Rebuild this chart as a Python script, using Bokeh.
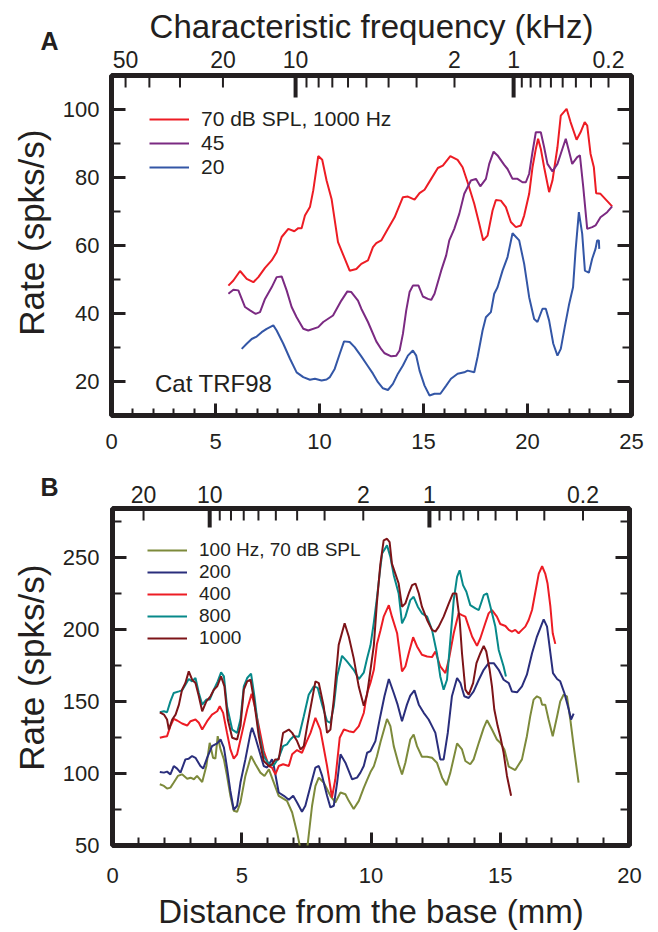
import numpy as np
from bokeh.plotting import figure
from bokeh.models import (Range1d, LinearAxis, FixedTicker, Label, Legend,
                          LegendItem, CustomJSTickFormatter)
from bokeh.layouts import column, row
from bokeh.embed import file_html
from bokeh.resources import INLINE

FONT = "Liberation Sans"
INK = "#231f20"

# ---------------- Panel A (cat, distance 0-25 mm) ----------------
a70_dist = [5.62, 5.86, 6.18, 6.50, 6.82, 7.06, 7.38, 7.70, 7.94, 8.18, 8.50, 8.79, 8.98, 9.14,
            9.30, 9.54, 9.70, 9.94, 10.13, 10.34, 10.58, 10.89, 11.45, 11.77, 12.01, 12.33,
            12.57, 12.73, 12.97, 13.29, 13.61, 14.01, 14.25, 14.57, 14.81, 15.05, 15.37, 15.69,
            15.93, 16.29, 16.64, 16.88, 17.12, 17.44, 17.68, 17.87, 18.08, 18.32, 18.48, 18.72,
            18.96, 19.20, 19.44, 19.68, 19.84, 20.08, 20.24, 20.40, 20.51, 20.64, 20.80, 21.04,
            21.20, 21.44, 21.60, 21.88, 22.07, 22.36, 22.55, 22.75, 22.87, 23.03, 23.19, 23.30,
            23.51, 24.07]
a70_rate = [48.2, 49.7, 52.5, 50.2, 49.2, 50.7, 53.4, 55.6, 58.0, 62.5, 64.9, 64.2, 65.1, 65.1,
            68.8, 71.3, 76.2, 86.3, 85.2, 79.1, 73.7, 61.0, 52.6, 53.1, 54.6, 55.6,
            59.5, 60.7, 61.5, 64.9, 68.3, 74.2, 74.4, 73.5, 75.4, 76.4, 79.6, 82.8,
            83.5, 86.3, 85.2, 83.0, 78.6, 72.3, 66.4, 61.5, 62.9, 70.3, 73.4, 73.2,
            71.3, 66.9, 65.4, 65.9, 68.8, 75.2, 83.0, 88.4, 91.4, 88.4, 83.0, 75.7,
            79.1, 88.9, 98.2, 100.2, 96.3, 91.1, 93.3, 96.3, 95.3, 87.0, 83.0, 75.4,
            75.2, 71.5]

a45_dist = [5.62, 5.86, 6.10, 6.42, 6.66, 6.93, 7.14, 7.38, 7.70, 7.94, 8.18, 8.42, 8.66, 8.90,
            9.22, 9.46, 9.94, 10.18, 10.65, 11.05, 11.34, 11.53, 11.85, 12.01, 12.33, 12.73,
            12.97, 13.13, 13.45, 13.69, 13.85, 14.01, 14.17, 14.33, 14.49, 14.76, 14.97, 15.21,
            15.37, 15.53, 15.85, 16.09, 16.24, 16.48, 16.72, 16.96, 17.28, 17.52, 17.73, 18.00,
            18.16, 18.37, 18.56, 18.88, 19.04, 19.28, 19.52, 19.76, 19.92, 20.08, 20.24, 20.40,
            20.64, 20.80, 20.96, 21.20, 21.44, 21.60, 21.84, 21.99, 22.15, 22.39, 22.52, 22.68,
            22.87, 23.11, 23.27, 23.51, 23.83, 24.07]
a45_rate = [45.8, 47.0, 46.8, 41.9, 40.9, 39.9, 40.4, 44.3, 47.7, 50.7, 50.9, 46.8, 41.9, 38.9,
            35.5, 35.0, 36.0, 37.5, 39.4, 43.8, 46.5, 46.3, 43.8, 41.4, 37.5, 31.8,
            29.5, 28.3, 27.4, 27.6, 29.1, 34.0, 40.9, 46.3, 48.2, 48.2, 45.0, 44.3,
            44.0, 45.8, 52.6, 57.1, 61.5, 64.9, 69.3, 75.2, 79.1, 79.6, 77.4, 79.6,
            84.0, 87.6, 86.5, 83.7, 82.5, 79.6, 79.6, 78.6, 78.6, 81.1, 87.5, 93.3,
            93.3, 88.9, 84.0, 81.8, 84.0, 87.0, 91.4, 87.9, 84.0, 86.0, 86.5, 77.2,
            64.9, 65.4, 65.9, 68.3, 69.8, 71.5]

a20_dist = [6.26, 6.50, 6.74, 6.98, 7.22, 7.46, 7.78, 7.94, 8.26, 8.58, 8.90, 9.22, 9.54, 9.78,
            10.10, 10.34, 10.50, 10.73, 10.97, 11.18, 11.45, 11.69, 12.01, 12.33, 12.57, 12.81,
            13.05, 13.29, 13.53, 13.77, 14.01, 14.25, 14.49, 14.65, 14.81, 15.05, 15.29, 15.53,
            15.81, 16.09, 16.32, 16.64, 16.96, 17.12, 17.44, 17.60, 17.84, 18.00, 18.24, 18.40,
            18.56, 18.80, 19.04, 19.28, 19.60, 19.84, 20.08, 20.32, 20.48, 20.72, 20.88, 21.04,
            21.24, 21.44, 21.60, 21.79, 21.99, 22.19, 22.31, 22.47, 22.63, 22.76, 22.95, 23.11,
            23.27, 23.35, 23.43, 23.45]
a20_rate = [29.6, 31.1, 32.5, 33.2, 34.5, 35.5, 36.5, 35.0, 31.1, 26.7, 22.7, 21.3, 20.5, 20.8,
            20.3, 20.6, 21.3, 23.7, 28.1, 31.8, 31.6, 30.1, 27.4, 24.5, 22.3, 19.8,
            18.0, 17.5, 19.3, 22.3, 24.7, 27.6, 29.1, 27.6, 23.2, 18.8, 15.9, 16.4,
            16.4, 18.8, 20.8, 22.3, 22.7, 23.2, 22.7, 27.2, 35.0, 38.9, 40.4, 45.8,
            47.7, 52.6, 56.6, 63.6, 61.5, 54.6, 44.8, 38.4, 37.5, 41.4, 41.4, 37.9,
            31.1, 27.6, 29.6, 36.0, 42.4, 47.7, 58.5, 69.8, 63.4, 52.6, 52.0, 56.1,
            59.0, 61.5, 61.5, 59.0]

a_labels = ["70 dB SPL, 1000 Hz", "45", "20"]
a_colors = ["#ed1c24", "#7b2a82", "#3356a6"]

a_cf_ticks = [50, 40, 30, 20, 10, 9, 8, 7, 6, 5, 4, 3, 2, 1,
              0.9, 0.8, 0.7, 0.6, 0.5, 0.4, 0.3, 0.2]
a_cf_tick_labels = ["50", "", "", "20", "10", "", "", "", "", "", "", "", "2", "1",
                    "", "", "", "", "", "", "", "0.2"]
a_cf_long = [10, 1]
a_x_major = [0, 5, 10, 15, 20, 25]
a_y_major = [20, 40, 60, 80, 100]
a_y_minor = [30, 50, 70, 90]

# ---------------- Panel B (distance 0-20 mm) ----------------
b100_dist = [1.83, 1.99, 2.11, 2.24, 2.37, 2.53, 2.69, 2.89, 3.02, 3.15, 3.27, 3.47, 3.63, 3.76,
             3.89, 3.98, 4.07, 4.18, 4.31, 4.43, 4.56, 4.69, 4.82, 4.95, 5.14, 5.36, 5.53, 5.72,
             5.88, 6.05, 6.24, 6.43, 6.75, 6.95, 7.14, 7.27, 7.40, 7.53, 7.72, 7.85, 7.98, 8.17,
             8.43, 8.62, 8.82, 9.01, 9.14, 9.33, 9.53, 9.72, 9.85, 9.98, 10.11, 10.23, 10.37,
             10.62, 10.75, 10.88, 11.07, 11.20, 11.33, 11.52, 11.65, 11.78, 11.97, 12.17, 12.36,
             12.55, 12.75, 12.92, 13.07, 13.33, 13.52, 13.65, 13.84, 13.97, 14.17, 14.36, 14.49,
             14.68, 14.87, 15.00, 15.16, 15.33, 15.58, 15.84, 16.03, 16.16, 16.29, 16.42, 16.55,
             16.62, 16.74, 16.87, 17.03, 17.20, 17.32, 17.45, 17.58, 17.71, 17.84, 18.03]
b100_rate = [92.5, 91.4, 89.5, 90.2, 93.7, 98.3, 99.4, 96.4, 97.1, 96.0, 98.3, 94.1, 105.2, 121.3,
             110.9, 110.3, 125.9, 116.7, 109.8, 98.3, 84.5, 74.1, 73.4, 79.9, 98.3, 112.1, 106.4, 100.6,
             98.3, 102.9, 93.7, 84.5, 81.0, 72.9, 59.1, 47.6, 45.3, 47.6, 77.6, 91.4, 97.1, 93.7,
             84.5, 79.9, 86.8, 85.6, 81.0, 75.3, 81.0, 90.0, 95.5, 101.0, 105.0, 112.0, 122.0,
             137.9, 132.9, 119.0, 106.4, 99.4, 107.5, 123.6, 127.1, 119.0, 111.6, 111.6, 110.9,
             107.5, 97.1, 91.8, 100.6, 120.9, 116.7, 108.7, 106.4, 109.8, 121.3, 131.7, 137.0,
             130.5, 123.6, 121.3, 116.7, 104.7, 102.4, 109.8, 125.9, 139.8, 151.3, 153.6, 152.4,
             147.8, 147.8, 137.5, 125.9, 139.8, 150.1, 154.7, 153.6, 137.5, 119.0, 93.7]

b200_dist = [1.83, 1.99, 2.11, 2.24, 2.37, 2.50, 2.63, 2.82, 2.95, 3.08, 3.21, 3.40, 3.51, 3.66,
             3.85, 4.05, 4.18, 4.31, 4.43, 4.56, 4.69, 4.82, 4.95, 5.14, 5.34, 5.40, 5.53, 5.70,
             5.85, 5.98, 6.17, 6.24, 6.43, 6.63, 6.82, 6.99, 7.14, 7.33, 7.46, 7.66, 7.85, 7.98,
             8.11, 8.30, 8.43, 8.56, 8.69, 8.82, 9.01, 9.27, 9.46, 9.59, 9.72, 9.85, 9.98, 10.17,
             10.36, 10.52, 10.69, 10.88, 11.03, 11.20, 11.39, 11.52, 11.68, 11.85, 12.04, 12.23,
             12.36, 12.49, 12.68, 12.81, 12.97, 13.13, 13.33, 13.46, 13.61, 13.78, 13.97, 14.17,
             14.36, 14.55, 14.75, 14.94, 15.13, 15.33, 15.45, 15.65, 15.84, 16.03, 16.23, 16.42,
             16.68, 16.81, 16.94, 17.04, 17.20, 17.32, 17.48, 17.65, 17.74, 17.84]
b200_rate = [101.1, 100.6, 101.3, 99.4, 105.2, 103.4, 100.6, 109.8, 110.3, 112.1, 110.9, 105.2, 103.4, 110.9,
             119.0, 120.9, 123.6, 117.9, 104.1, 87.9, 74.8, 77.6, 93.7, 109.8, 128.2, 131.7, 124.8, 114.4,
             105.2, 104.1, 109.8, 105.2, 86.8, 84.5, 81.7, 84.5, 79.9, 73.4, 77.6, 91.4, 104.1, 105.2,
             98.3, 84.5, 76.4, 77.6, 93.7, 113.3, 107.5, 96.0, 97.1, 100.6, 105.2, 114.4, 115.6, 122.5,
             139.8, 153.6, 165.6, 155.9, 147.8, 136.3, 147.8, 154.1, 157.7, 147.8, 142.1, 137.5,
             132.9, 128.2, 109.8, 109.8, 128.2, 153.6, 166.3, 162.8, 153.6, 152.4, 157.0, 165.1,
             172.0, 176.6, 176.6, 172.0, 165.1, 162.8, 157.0, 156.4, 160.5, 168.6, 183.5, 195.1,
             207.0, 202.0, 183.5, 169.7, 165.6, 164.0, 155.9, 144.4, 137.5, 141.6]

b400_dist = [1.83, 1.99, 2.11, 2.24, 2.37, 2.50, 2.69, 2.89, 3.02, 3.21, 3.34, 3.47, 3.66, 3.85,
             4.05, 4.15, 4.28, 4.43, 4.56, 4.69, 4.82, 5.01, 5.21, 5.38, 5.49, 5.66, 5.85, 6.05,
             6.17, 6.30, 6.43, 6.60, 6.82, 6.95, 7.14, 7.33, 7.50, 7.66, 7.85, 8.04, 8.17, 8.30,
             8.49, 8.62, 8.79, 8.95, 9.14, 9.33, 9.53, 9.72, 9.85, 9.98, 10.11, 10.23, 10.36,
             10.49, 10.69, 10.81, 11.01, 11.20, 11.33, 11.46, 11.63, 11.78, 11.97, 12.17, 12.36,
             12.49, 12.68, 12.88, 13.01, 13.20, 13.39, 13.52, 13.65, 13.78, 13.91, 14.10, 14.23,
             14.42, 14.55, 14.68, 14.87, 15.00, 15.20, 15.33, 15.45, 15.58, 15.71, 15.84, 15.97,
             16.10, 16.23, 16.36, 16.49, 16.62, 16.74, 16.83, 16.94, 17.03, 17.13]
b400_rate = [124.8, 125.5, 125.9, 132.9, 137.9, 136.8, 134.7, 133.3, 136.3, 137.5, 135.2, 130.5, 136.3, 140.9,
             143.2, 146.7, 142.1, 128.2, 116.7, 110.3, 113.3, 128.2, 144.4, 155.4, 147.8, 132.9, 115.6, 105.2,
             104.1, 99.4, 105.2, 106.4, 105.2, 113.3, 116.3, 114.4, 121.8, 128.2, 138.6, 130.5, 117.9, 105.2,
             83.3, 96.0, 124.8, 130.5, 129.4, 128.7, 132.9, 142.0, 156.0, 163.0, 172.0, 190.0, 199.0,
             208.9, 216.9, 208.9, 197.4, 170.9, 174.3, 183.5, 194.6, 188.2, 182.4, 181.2, 180.8,
             184.7, 174.3, 169.7, 178.9, 197.4, 211.2, 210.0, 208.9, 202.0, 195.1, 188.6, 193.9,
             204.3, 211.2, 213.5, 208.9, 203.8, 202.4, 199.7, 198.5, 199.7, 197.4, 199.7, 202.0,
             206.6, 213.5, 226.2, 238.8, 243.9, 238.8, 231.9, 215.8, 197.4, 190.0]

b800_dist = [1.83, 1.99, 2.11, 2.24, 2.37, 2.57, 2.69, 2.82, 2.95, 3.08, 3.21, 3.34, 3.47, 3.63,
             3.76, 3.92, 4.07, 4.20, 4.31, 4.43, 4.63, 4.82, 4.95, 5.08, 5.21, 5.36, 5.49, 5.66,
             5.85, 6.05, 6.24, 6.43, 6.60, 6.75, 6.88, 7.01, 7.21, 7.40, 7.59, 7.79, 7.94, 8.11,
             8.30, 8.43, 8.56, 8.69, 8.88, 9.07, 9.33, 9.53, 9.72, 9.85, 9.98, 10.11, 10.23,
             10.33, 10.43, 10.62, 10.75, 10.88, 11.07, 11.20, 11.33, 11.52, 11.65, 11.81, 11.97,
             12.17, 12.36, 12.55, 12.68, 12.81, 12.94, 13.07, 13.20, 13.33, 13.43, 13.56, 13.69,
             13.84, 14.04, 14.17, 14.36, 14.49, 14.62, 14.81, 14.94, 15.13, 15.22]
b800_rate = [142.5, 143.2, 142.5, 150.1, 155.9, 157.0, 157.7, 161.7, 165.6, 164.0, 166.3, 155.9, 147.8, 151.3,
             151.3, 158.2, 164.0, 170.2, 167.4, 146.7, 130.5, 128.2, 137.5, 160.5, 166.3, 169.3, 153.6, 128.2,
             112.1, 106.4, 105.7, 110.9, 119.0, 120.2, 123.6, 125.9, 125.5, 139.8, 154.7, 160.5, 159.4, 147.8,
             136.3, 135.2, 146.7, 167.4, 181.7, 177.8, 172.0, 165.6, 170.0, 180.0, 189.0, 205.0, 222.0,
             238.0, 252.7, 258.4, 250.4, 237.7, 225.0, 204.3, 208.9, 220.4, 222.7, 215.8, 211.2,
             208.9, 199.7, 183.5, 167.4, 158.2, 165.1, 192.8, 220.4, 236.5, 241.1, 230.8, 226.2,
             216.9, 214.6, 213.5, 223.8, 225.0, 215.8, 202.0, 185.8, 174.3, 167.4]

b1000_dist = [1.83, 1.99, 2.11, 2.18, 2.31, 2.44, 2.57, 2.69, 2.82, 2.95, 3.08, 3.21, 3.34, 3.47,
              3.63, 3.79, 3.92, 4.05, 4.20, 4.33, 4.46, 4.63, 4.82, 4.95, 5.08, 5.21, 5.34, 5.47,
              5.66, 5.85, 6.05, 6.17, 6.30, 6.43, 6.60, 6.82, 6.95, 7.14, 7.27, 7.40, 7.53, 7.72,
              7.85, 7.98, 8.17, 8.30, 8.43, 8.56, 8.75, 8.98, 9.14, 9.33, 9.53, 9.72, 9.85, 9.98,
              10.11, 10.23, 10.36, 10.49, 10.62, 10.72, 10.81, 10.94, 11.07, 11.20, 11.33, 11.46,
              11.59, 11.72, 11.85, 11.97, 12.17, 12.36, 12.49, 12.62, 12.81, 13.01, 13.17, 13.30,
              13.43, 13.52, 13.65, 13.78, 13.95, 14.08, 14.23, 14.36, 14.46, 14.59, 14.68, 14.77,
              14.90, 15.00, 15.13, 15.26, 15.42]
b1000_rate = [142.5, 140.9, 137.5, 130.5, 137.5, 140.9, 147.8, 158.2, 162.8, 170.9, 165.1, 162.8, 153.6, 143.2,
              150.1, 153.6, 158.2, 160.5, 167.4, 160.5, 137.5, 124.8, 123.6, 132.9, 158.2, 164.0, 165.1, 151.3,
              125.9, 108.7, 105.2, 106.4, 109.8, 109.8, 128.2, 130.5, 128.2, 122.5, 116.7, 119.0, 132.9, 151.3,
              164.0, 162.8, 146.7, 128.2, 130.5, 151.3, 189.3, 204.3, 195.1, 180.1, 160.0, 147.0, 155.0, 172.0,
              189.0, 219.0, 245.0, 261.9, 263.0, 260.7, 245.7, 238.8, 231.9, 215.8, 218.1, 225.0,
              230.8, 231.9, 225.0, 215.8, 206.6, 199.7, 198.5, 202.0, 208.9, 218.1, 225.0, 225.0,
              206.6, 183.5, 158.2, 154.7, 162.8, 176.6, 183.5, 188.6, 184.7, 172.0, 160.5, 144.4,
              132.9, 125.9, 114.4, 98.3, 84.5]

b_labels = ["100 Hz, 70 dB SPL", "200", "400", "800", "1000"]
b_colors = ["#7d8a3b", "#2a2e7c", "#ed1c24", "#07898a", "#7d1418"]

b_cf_ticks = [20, 10, 9, 8, 7, 6, 5, 4, 3, 2, 1,
              0.9, 0.8, 0.7, 0.6, 0.5, 0.4, 0.3, 0.2]
b_cf_tick_labels = ["20", "10", "", "", "", "", "", "", "", "2", "1",
                    "", "", "", "", "", "", "", "0.2"]
b_cf_long = [10, 1]
b_x_major = [0, 5, 10, 15, 20]
b_y_major = [50, 100, 150, 200, 250]
b_y_minor = [75, 125, 175, 225, 275]


# Place-frequency maps (distance from base in mm for a CF in kHz)
def dist_a(f):
    # cat Greenwood map, 25 mm cochlea
    return 25.0 - (25.0 / 2.1) * np.log10(np.asarray(f, dtype=float) / 0.456 + 0.8)


def dist_b(f):
    return 12.26 - 8.5 * np.log10(np.asarray(f, dtype=float))


def fl(v):
    return [float(x) for x in np.atleast_1d(v)]


SIDE_W = 59  # width of the narrow strip left of each panel (letter + y title)


def base_fig(w, h, xr, yr, left, right, top, bottom):
    p = figure(width=w, height=h, x_range=Range1d(*xr), y_range=Range1d(*yr),
               output_backend="svg", toolbar_location=None,
               x_axis_location=None, y_axis_location=None)
    p.min_border_left = left
    p.min_border_right = right
    p.min_border_top = top
    p.min_border_bottom = bottom
    p.grid.grid_line_color = None
    p.outline_line_color = INK
    p.outline_line_width = 5
    p.background_fill_color = "white"
    p.border_fill_color = "white"
    return p


def style_ticks(ax, major_len, minor_len, major_w, minor_w):
    ax.axis_line_color = None
    ax.major_tick_in = major_len
    ax.major_tick_out = 0
    ax.minor_tick_in = minor_len
    ax.minor_tick_out = 0
    ax.major_tick_line_color = INK
    ax.minor_tick_line_color = INK
    ax.major_tick_line_width = major_w
    ax.minor_tick_line_width = minor_w


def side_strip(h, yr, letter, letter_x, letter_standoff, title_y):
    # narrow strip to the left of a panel; its frame lines up with the panel's frame
    s = figure(width=SIDE_W, height=h, x_range=Range1d(0, SIDE_W), y_range=Range1d(*yr),
               output_backend="svg", toolbar_location=None,
               x_axis_location=None, y_axis_location=None)
    s.min_border_left = 0
    s.min_border_right = 0
    s.min_border_top = 0
    s.min_border_bottom = 0
    s.grid.grid_line_color = None
    s.outline_line_color = None
    s.background_fill_color = "white"
    s.border_fill_color = "white"
    # panel letter drawn as the single tick label of a mark-less top axis
    ax = LinearAxis(ticker=FixedTicker(ticks=[float(letter_x)], minor_ticks=[]))
    style_ticks(ax, 0, 0, 0, 0)
    ax.major_tick_line_color = None
    ax.minor_tick_line_color = None
    ax.formatter = CustomJSTickFormatter(args=dict(t=letter), code="return t;")
    ax.major_label_text_font = FONT
    ax.major_label_text_font_size = "25px"
    ax.major_label_text_font_style = "bold"
    ax.major_label_text_color = INK
    ax.major_label_standoff = letter_standoff
    s.add_layout(ax, "above")
    s.add_layout(Label(x=31, y=float(title_y), text="Rate (spks/s)", text_font=FONT,
                       text_font_size="35px", text_color=INK, text_align="center",
                       text_baseline="middle", angle=np.pi / 2))
    return s


def add_axis(p, side, ticks, minor, major_len, minor_len, labels=True,
             standoff=10, title=None, title_size="33px", title_standoff=10):
    ax = LinearAxis(ticker=FixedTicker(ticks=fl(ticks), minor_ticks=fl(minor)))
    style_ticks(ax, major_len, minor_len, 3, 2)
    if labels:
        ax.major_label_text_font = FONT
        ax.major_label_text_font_size = "22px"
        ax.major_label_text_color = INK
        ax.major_label_standoff = standoff
    else:
        ax.formatter = CustomJSTickFormatter(code="return ''")
        ax.major_label_text_font_size = "0px"
        ax.major_label_standoff = 0
    if title:
        ax.axis_label = title
        ax.axis_label_text_font = FONT
        ax.axis_label_text_font_size = title_size
        ax.axis_label_text_font_style = "normal"
        ax.axis_label_text_color = INK
        ax.axis_label_standoff = title_standoff
    p.add_layout(ax, side)
    return ax


def add_cf_axis(p, pos, labs, long_pos, y_top, long_len, standoff, title=None, title_standoff=0):
    pos = fl(pos)
    # tick labels (and title) from an axis with no tick marks of its own
    ax = LinearAxis(ticker=FixedTicker(ticks=pos, minor_ticks=[]))
    style_ticks(ax, 0, 0, 0, 0)
    ax.major_tick_line_color = None
    ax.minor_tick_line_color = None
    ax.formatter = CustomJSTickFormatter(
        args=dict(pos=pos, labs=list(labs)),
        code="for (let i = 0; i < pos.length; i++) { if (Math.abs(pos[i] - tick) < 1e-6) return labs[i]; } return '';")
    ax.major_label_text_font = FONT
    ax.major_label_text_font_size = "23px"
    ax.major_label_text_color = INK
    ax.major_label_standoff = standoff
    if title:
        ax.axis_label = title
        ax.axis_label_text_font = FONT
        ax.axis_label_text_font_size = "33px"
        ax.axis_label_text_font_style = "normal"
        ax.axis_label_text_color = INK
        ax.axis_label_standoff = title_standoff
    p.add_layout(ax, "above")
    # inward tick marks hanging from the top edge of the frame
    lp = fl(long_pos)
    short = [x for x in pos if min(abs(x - l) for l in lp) > 1e-9]
    p.ray(x=short, y=[y_top] * len(short), length=12, length_units="screen",
          angle=-np.pi / 2, line_color=INK, line_width=2)
    p.ray(x=lp, y=[y_top] * len(lp), length=long_len, length_units="screen",
          angle=-np.pi / 2, line_color=INK, line_width=4)


def make_legend(p, renderers, labels, loc, spacing, size):
    leg = Legend(items=[LegendItem(label=l, renderers=[r]) for l, r in zip(labels, renderers)],
                 location=loc)
    leg.label_text_font = FONT
    leg.label_text_font_size = size
    leg.label_text_color = INK
    leg.glyph_width = 40
    leg.glyph_height = 18
    leg.label_height = 18
    leg.label_standoff = 12
    leg.spacing = spacing
    leg.padding = 0
    leg.margin = 0
    leg.border_line_color = None
    leg.background_fill_alpha = 0
    p.add_layout(leg)


# ---------------- build panel A ----------------
HA = 465
pA = base_fig(658 - SIDE_W, HA, (0, 25), (10, 110), 109 - SIDE_W, 27, 75, 50)
rA = []
for xs, ys, c in zip([a70_dist, a45_dist, a20_dist], [a70_rate, a45_rate, a20_rate], a_colors):
    rA.append(pA.line(xs, ys, line_color=c, line_width=2))

add_axis(pA, "below", a_x_major, range(0, 26), 12, 7, labels=True, standoff=18)
add_axis(pA, "left", a_y_major, a_y_minor, 14, 9, labels=True, standoff=12)
add_axis(pA, "right", a_y_major, a_y_minor, 14, 9, labels=False)
add_cf_axis(pA, dist_a(a_cf_ticks), a_cf_tick_labels, dist_a(a_cf_long), 110, 22, 8,
            title="Characteristic frequency (kHz)", title_standoff=3)

pA.add_layout(Label(x=2.09, y=19.4, text="Cat TRF98", text_font=FONT, text_font_size="24px",
                    text_color=INK, text_align="left", text_baseline="middle"))
make_legend(pA, rA, a_labels, (38, 236), 0, "21px")

sA = side_strip(HA, (10, 110), "A", 51, 21, 63.8)

# ---------------- build panel B ----------------
HB = 467
pB = base_fig(658 - SIDE_W, HB, (0, 20), (50, 284), 112 - SIDE_W, 29, 43, 85)
rB = []
for xs, ys, c in zip([b100_dist, b200_dist, b400_dist, b800_dist, b1000_dist],
                     [b100_rate, b200_rate, b400_rate, b800_rate, b1000_rate], b_colors):
    rB.append(pB.line(xs, ys, line_color=c, line_width=2))

add_axis(pB, "below", b_x_major, range(0, 21), 13, 8, labels=True, standoff=22,
         title="Distance from the base (mm)", title_size="33px", title_standoff=7)
add_axis(pB, "left", b_y_major, b_y_minor, 14, 9, labels=True, standoff=13)
add_axis(pB, "right", b_y_major, b_y_minor, 14, 9, labels=False)
add_cf_axis(pB, dist_b(b_cf_ticks), b_cf_tick_labels, dist_b(b_cf_long), 284, 19, 6)

make_legend(pB, rB, b_labels, (35, 196), 0, "19px")

sB = side_strip(HB, (50, 284), "B", 51, 8, 173.5)

layout = column(row(sA, pA, spacing=0), row(sB, pB, spacing=0), spacing=0)
open("out.html", "w").write(file_html(layout, INLINE))
